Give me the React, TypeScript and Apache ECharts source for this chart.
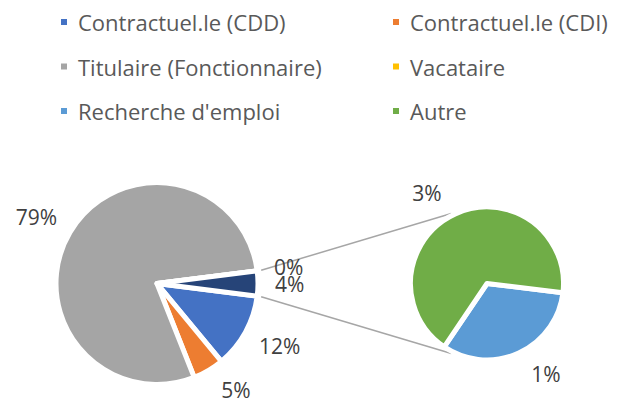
import React, { useEffect, useRef } from "react";
import * as echarts from "echarts";

// ---- Data ----
const mainCategories = ["Contractuel.le (CDD)", "Contractuel.le (CDI)", "Titulaire (Fonctionnaire)", "Vacataire"];
const mainValues = [12, 5, 79, 0];
const subCategories = ["Recherche d'emploi", "Autre"];
const subValues = [1.3, 2.7];
const otherSliceName = "Autres situations";
const legendLeftNames = ["Contractuel.le (CDD)", "Titulaire (Fonctionnaire)", "Recherche d'emploi"];
const legendRightNames = ["Contractuel.le (CDI)", "Vacataire", "Autre"];

// ---- Styles ----
const colors: Record<string, string> = {
  "Contractuel.le (CDD)": "#4472C4",
  "Contractuel.le (CDI)": "#ED7D31",
  "Titulaire (Fonctionnaire)": "#A5A5A5",
  "Vacataire": "#FFC000",
  "Recherche d'emploi": "#5B9BD5",
  "Autre": "#70AD47",
  [otherSliceName]: "#264478",
};

// per-slice label placement tweaks (label line length / distance)
const labelTweaks: Record<string, { length?: number; dist?: number }> = {
  "Contractuel.le (CDI)": { length: 23, dist: 1 },
  "Recherche d'emploi": { dist: 3 },
  "Autre": { dist: 4 },
};

const W = 626;
const H = 403;

export default function App() {
  const ref = useRef<HTMLDivElement>(null);
  useEffect(() => {
    document.body.style.margin = "0";
    if (!ref.current) return;
    const chart = echarts.init(ref.current, undefined, { renderer: "svg" });

    const otherValue = subValues.reduce((a, b) => a + b, 0);
    const total = mainValues.reduce((a, b) => a + b, 0) + otherValue;
    const otherHalfDeg = (otherValue / total) * 180;

    const c1 = [157, 283.5];
    const r1 = 101;
    const c2 = [487, 283.5];
    const r2 = 76.5;
    const border = 5;

    const withTweaks = (name: string, base: any) => {
      const t = labelTweaks[name];
      if (!t) return base;
      const out: any = { ...base };
      if (t.dist !== undefined) out.label = { distanceToLabelLine: t.dist };
      if (t.length !== undefined) out.labelLine = { length: t.length };
      return out;
    };

    const mainData = mainCategories
      .map((n, i) => withTweaks(n, { name: n, value: mainValues[i], itemStyle: { color: colors[n] } }))
      .concat([{ name: otherSliceName, value: otherValue, itemStyle: { color: colors[otherSliceName] } }]);
    const subData = subCategories.map((n, i) =>
      withTweaks(n, { name: n, value: subValues[i], itemStyle: { color: colors[n] } })
    );

    const labelFont = {
      fontFamily: "'Open Sans', 'Noto Sans', sans-serif",
      fontSize: 21,
      lineHeight: 16,
      color: "#404040",
    };

    const a = (otherHalfDeg * Math.PI) / 180;
    const rc1 = r1 + 4;
    const b = (117 * Math.PI) / 180;
    const rc2 = r2 + 2;
    const p1u = [c1[0] + rc1 * Math.cos(a), c1[1] - rc1 * Math.sin(a)];
    const p1d = [c1[0] + rc1 * Math.cos(a), c1[1] + rc1 * Math.sin(a)];
    const p2u = [c2[0] + rc2 * Math.cos(b), c2[1] - rc2 * Math.sin(b)];
    const p2d = [c2[0] + rc2 * Math.cos(b), c2[1] + rc2 * Math.sin(b)];

    const legendCommon = {
      orient: "vertical" as const,
      icon: "rect",
      itemWidth: 8,
      itemHeight: 8,
      itemGap: 22.5,
      padding: 0,
      selectedMode: false,
      textStyle: {
        fontFamily: "'Open Sans', 'Noto Sans', sans-serif",
        fontSize: 22,
        lineHeight: 22,
        color: "#595959",
        padding: [0, 0, 0, 5],
      },
    };

    chart.setOption({
      animation: false,
      backgroundColor: "#ffffff",
      legend: [
        { ...legendCommon, left: 59, top: 11, data: legendLeftNames },
        { ...legendCommon, left: 391, top: 11, data: legendRightNames },
      ],
      graphic: [
        {
          type: "line",
          shape: { x1: p1u[0], y1: p1u[1], x2: p2u[0], y2: p2u[1] },
          style: { stroke: "#A6A6A6", lineWidth: 1.5 },
          z: 0,
        },
        {
          type: "line",
          shape: { x1: p1d[0], y1: p1d[1], x2: p2d[0], y2: p2d[1] },
          style: { stroke: "#A6A6A6", lineWidth: 1.5 },
          z: 0,
        },
      ],
      series: [
        {
          type: "pie",
          center: c1,
          radius: r1,
          startAngle: -otherHalfDeg,
          clockwise: true,
          minAngle: 0.05,
          minShowLabelAngle: 0,
          avoidLabelOverlap: false,
          labelLayout: { hideOverlap: false },
          emphasis: { disabled: true },
          itemStyle: { borderColor: "#ffffff", borderWidth: border },
          label: {
            show: true,
            position: "outside",
            distanceToLabelLine: -12,
            formatter: (p: any) => Math.round((p.value / total) * 100) + "%",
            ...labelFont,
          },
          labelLine: { show: false, length: 29, length2: 0 },
          data: mainData,
        },
        {
          type: "pie",
          center: c2,
          radius: r2,
          startAngle: -7,
          clockwise: true,
          avoidLabelOverlap: false,
          labelLayout: { hideOverlap: false },
          emphasis: { disabled: true },
          itemStyle: { borderColor: "#ffffff", borderWidth: border },
          label: {
            show: true,
            position: "outside",
            distanceToLabelLine: -12,
            formatter: (p: any) => Math.round((p.value / total) * 100) + "%",
            ...labelFont,
          },
          labelLine: { show: false, length: 23, length2: 0 },
          data: subData,
        },
      ],
    });

    return () => chart.dispose();
  }, []);

  return <div ref={ref} style={{ width: W, height: H }} />;
}
